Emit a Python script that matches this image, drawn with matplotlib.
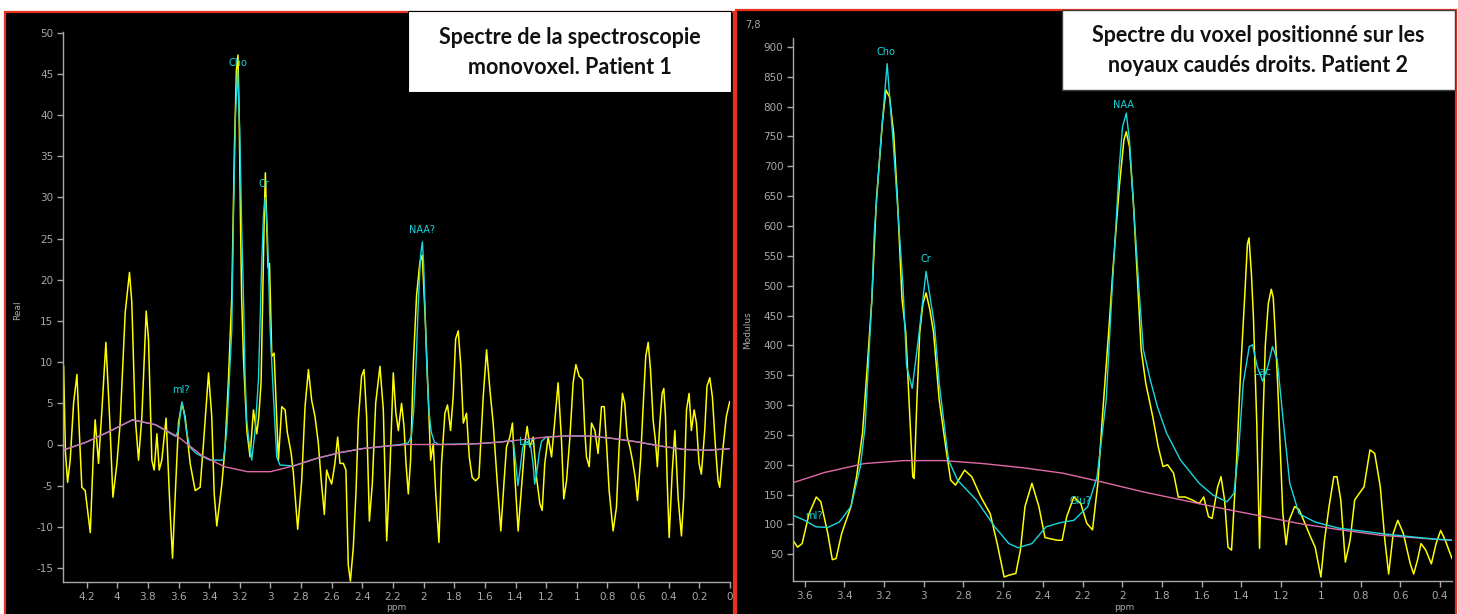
import matplotlib
matplotlib.use("Agg")
import matplotlib.pyplot as plt
from matplotlib.patches import Rectangle
from matplotlib.ticker import FixedLocator, FuncFormatter

# ---------------- Patient 1 (left, "Real") ----------------
p1_ppm = [4.350, 4.338, 4.324, 4.307, 4.285, 4.263, 4.246, 4.231, 4.209, 4.176,
          4.155, 4.144, 4.122, 4.100, 4.074, 4.050, 4.028, 4.002, 3.981, 3.948,
          3.920, 3.905, 3.883, 3.861, 3.839, 3.811, 3.796, 3.774, 3.759, 3.741,
          3.726, 3.709, 3.681, 3.654, 3.639, 3.622, 3.600, 3.578, 3.557, 3.524,
          3.491, 3.459, 3.437, 3.404, 3.383, 3.367, 3.350, 3.317, 3.296, 3.274,
          3.252, 3.235, 3.222, 3.212, 3.204, 3.196, 3.188, 3.176, 3.154, 3.133,
          3.111, 3.089, 3.076, 3.061, 3.048, 3.040, 3.033, 3.026, 3.016, 3.006,
          2.991, 2.976, 2.963, 2.948, 2.926, 2.904, 2.890, 2.865, 2.850, 2.822,
          2.796, 2.774, 2.752, 2.731, 2.709, 2.687, 2.670, 2.648, 2.633, 2.618,
          2.600, 2.579, 2.561, 2.546, 2.524, 2.507, 2.492, 2.478, 2.459, 2.441,
          2.426, 2.405, 2.389, 2.372, 2.354, 2.335, 2.313, 2.285, 2.263, 2.241,
          2.220, 2.198, 2.181, 2.165, 2.144, 2.128, 2.115, 2.100, 2.085, 2.067,
          2.046, 2.024, 2.009, 1.991, 1.970, 1.954, 1.937, 1.922, 1.900, 1.883,
          1.861, 1.844, 1.824, 1.807, 1.791, 1.774, 1.757, 1.741, 1.720, 1.702,
          1.683, 1.661, 1.639, 1.611, 1.589, 1.567, 1.546, 1.520, 1.496, 1.476,
          1.459, 1.437, 1.420, 1.404, 1.383, 1.361, 1.339, 1.324, 1.306, 1.285,
          1.263, 1.241, 1.226, 1.209, 1.187, 1.165, 1.143, 1.122, 1.100, 1.085,
          1.067, 1.045, 1.024, 1.006, 0.985, 0.963, 0.948, 0.937, 0.919, 0.904,
          0.882, 0.861, 0.839, 0.821, 0.806, 0.789, 0.763, 0.741, 0.724, 0.702,
          0.687, 0.671, 0.654, 0.637, 0.619, 0.604, 0.584, 0.567, 0.550, 0.534,
          0.519, 0.502, 0.487, 0.474, 0.458, 0.443, 0.432, 0.421, 0.410, 0.397,
          0.378, 0.360, 0.339, 0.317, 0.302, 0.284, 0.267, 0.252, 0.234, 0.219,
          0.202, 0.187, 0.165, 0.150, 0.132, 0.115, 0.095, 0.078, 0.067, 0.045,
          0.024, 0.002]
p1_real = [9.5, -1.0, -4.6, -1.9, 5.0, 8.5, 0.9, -5.2, -5.6, -10.7,
           -0.7, 3.0, -2.3, 4.2, 12.4, 3.4, -6.4, -2.3, 2.6, 16.0,
           20.9, 17.3, 3.4, -1.9, 3.4, 16.2, 12.8, -1.9, -3.1, 1.3,
           -3.1, -1.9, 3.2, -8.5, -13.8, -6.4, 2.6, 5.0, 3.4, -2.3,
           -5.6, -5.2, 0.1, 8.7, 3.4, -6.0, -9.9, -4.8, -0.3, 7.9,
           18.1, 36.0, 45.5, 47.3, 40.0, 28.0, 18.0, 10.5, 1.7, -1.5,
           4.2, 1.3, 3.4, 7.5, 20.0, 28.0, 33.0, 28.0, 21.5, 22.0,
           10.7, 11.1, 5.0, -1.9, 4.6, 4.2, 1.5, -1.0, -3.5, -10.3,
           -4.4, 4.6, 9.1, 5.4, 3.4, 0.1, -4.0, -8.5, -3.1, -4.0,
           -4.8, -2.3, 0.9, -2.3, -2.3, -3.1, -14.6, -16.6, -12.5, -5.6,
           3.0, 8.3, 9.1, 3.4, -9.3, -4.8, 5.0, 9.5, 4.2, -11.7,
           -3.1, 8.7, 3.8, 1.7, 5.0, 2.2, -2.3, -6.0, -1.9, 9.9,
           18.1, 22.2, 23.0, 16.0, 5.8, -1.9, 0.1, -5.6, -11.9, -2.3,
           3.8, 4.8, 1.7, 5.8, 12.8, 13.8, 9.5, 2.6, 3.8, -1.5,
           -4.0, -4.4, -4.0, 5.8, 11.5, 6.6, 2.6, -4.4, -10.5, -4.8,
           -0.3, 0.9, 2.6, -4.0, -10.5, -5.2, 0.1, 2.2, -0.3, 0.9,
           -4.0, -7.2, -8.0, -2.3, 0.9, -1.5, 3.0, 7.5, 0.5, -6.6,
           -4.4, 0.9, 7.5, 9.7, 8.3, 7.9, 1.7, -1.5, -2.7, 2.6,
           1.7, -1.1, 4.6, 4.6, 0.1, -5.6, -10.5, -7.6, -0.3, 6.2,
           5.0, 0.9, -0.3, -1.9, -4.0, -6.8, -1.9, 4.6, 10.7, 12.4,
           9.1, 3.0, 0.5, -2.7, 2.6, 6.2, 6.8, 3.4, -4.4, -11.3,
           -3.6, 1.7, -6.4, -11.1, -6.4, 4.2, 6.2, 1.7, 4.2, 2.6,
           -2.3, -3.6, 1.7, 7.1, 8.1, 5.8, -0.3, -4.4, -5.2, -0.3,
           3.4, 5.2]

p1_fit_ppm = [4.354, 4.20, 4.05, 3.90, 3.75, 3.62, 3.60, 3.59, 3.578, 3.566,
              3.549, 3.527, 3.483, 3.394, 3.307, 3.285, 3.263, 3.252, 3.241, 3.228,
              3.214, 3.200, 3.187, 3.176, 3.165, 3.155, 3.144, 3.122, 3.100, 3.078,
              3.057, 3.045, 3.033, 3.020, 3.002, 2.980, 2.959, 2.937, 2.85, 2.70,
              2.55, 2.40, 2.25, 2.15, 2.10, 2.08, 2.065, 2.05, 2.035, 2.02,
              2.008, 2.00, 1.99, 1.978, 1.965, 1.95, 1.93, 1.90, 1.65, 1.50,
              1.44, 1.415, 1.40, 1.385, 1.37, 1.355, 1.34, 1.32, 1.30, 1.285,
              1.275, 1.262, 1.245, 1.23, 1.20, 1.05, 0.90, 0.75, 0.60, 0.45,
              0.30, 0.15, 0.0]
p1_fit = [-0.7, 0.3, 1.6, 3.0, 2.4, 1.0, 1.7, 3.5, 5.2, 4.2,
          1.7, -0.3, -1.1, -1.9, -1.9, 1.7, 9.9, 14.0, 28.0, 40.0,
          45.5, 38.0, 26.0, 18.0, 8.0, 3.0, 1.0, -1.9, 1.7, 7.9,
          22.0, 28.0, 30.0, 26.0, 14.0, 5.8, -1.5, -2.5, -2.6, -1.7,
          -1.0, -0.5, -0.2, 0.0, 0.2, 1.0, 4.0, 9.5, 17.0, 23.0,
          24.6, 22.0, 16.0, 9.0, 4.0, 1.5, 0.3, 0.0, 0.1, 0.3,
          0.45, 0.3, -2.0, -5.0, -3.0, -0.5, 0.3, 0.2, -0.3, -2.5,
          -4.8, -3.5, -1.0, 0.4, 0.9, 1.05, 1.0, 0.7, 0.3, -0.2,
          -0.6, -0.7, -0.5]

p1_base_ppm = [4.354, 4.20, 4.05, 3.90, 3.75, 3.60, 3.45, 3.30, 3.15, 3.00,
               2.85, 2.70, 2.55, 2.40, 2.25, 2.10, 1.95, 1.80, 1.65, 1.50,
               1.35, 1.20, 1.05, 0.90, 0.75, 0.60, 0.45, 0.30, 0.15, 0.0]
p1_base = [-0.7, 0.3, 1.6, 3.0, 2.4, 0.9, -1.3, -2.7, -3.3, -3.3,
           -2.6, -1.7, -1.0, -0.5, -0.2, 0.0, 0.0, 0.0, 0.1, 0.3,
           0.6, 0.9, 1.05, 1.0, 0.7, 0.3, -0.2, -0.6, -0.7, -0.5]

p1_labels = ["Cho", "Cr", "NAA?", "mI?", "Lac"]
p1_label_ppm = [3.214, 3.04, 2.008, 3.585, 1.325]
p1_label_val = [46.3, 31.6, 26.0, 6.6, 0.3]

# ---------------- Patient 2 (right, "Modulus") ----------------
p2_ppm = [3.658, 3.635, 3.612, 3.577, 3.541, 3.518, 3.483, 3.460, 3.441, 3.413,
          3.366, 3.338, 3.308, 3.284, 3.261, 3.238, 3.207, 3.190, 3.172, 3.151,
          3.132, 3.109, 3.090, 3.074, 3.055, 3.048, 3.034, 3.020, 3.004, 2.988,
          2.969, 2.950, 2.922, 2.887, 2.864, 2.840, 2.794, 2.758, 2.712, 2.665,
          2.630, 2.595, 2.571, 2.536, 2.513, 2.490, 2.455, 2.420, 2.389, 2.361,
          2.326, 2.303, 2.280, 2.244, 2.209, 2.179, 2.150, 2.123, 2.100, 2.069,
          2.046, 2.015, 1.992, 1.980, 1.964, 1.945, 1.922, 1.905, 1.882, 1.847,
          1.819, 1.795, 1.772, 1.742, 1.718, 1.683, 1.648, 1.613, 1.590, 1.566,
          1.548, 1.520, 1.503, 1.485, 1.468, 1.450, 1.426, 1.403, 1.384, 1.370,
          1.362, 1.350, 1.340, 1.323, 1.309, 1.295, 1.280, 1.265, 1.250, 1.240,
          1.230, 1.217, 1.192, 1.175, 1.160, 1.132, 1.110, 1.087, 1.052, 1.029,
          1.000, 0.982, 0.959, 0.935, 0.919, 0.900, 0.877, 0.853, 0.830, 0.807,
          0.783, 0.753, 0.729, 0.701, 0.678, 0.659, 0.636, 0.613, 0.585, 0.550,
          0.533, 0.514, 0.496, 0.472, 0.444, 0.420, 0.397, 0.374, 0.340]
p2_mod = [73.5, 62, 68, 118, 146, 138, 85, 41, 43, 85,
          130, 180, 253, 365, 477, 644, 777, 828, 816, 755,
          644, 477, 421, 309, 180, 177, 309, 421, 470, 488,
          460, 421, 309, 225, 174, 166, 191, 180, 146, 118,
          68, 12, 15, 18, 57, 130, 169, 130, 78, 76,
          73.5, 73.5, 113, 146, 135, 102, 91, 169, 281, 421,
          532, 666, 744, 758, 733, 644, 499, 393, 337, 281,
          230, 197, 200, 186, 146, 146, 141, 135, 146, 113,
          110, 163, 180, 141, 62, 57, 197, 365, 480, 570,
          580, 520, 449, 270, 60, 240, 400, 470, 494, 480,
          420, 330, 120, 66, 107, 130, 125, 107, 79, 62,
          12, 73.5, 130, 180, 180, 141, 37, 73.5, 141, 152,
          163, 225, 219, 163, 73.5, 17, 85, 107, 85, 34,
          17, 40, 68, 57, 34, 68, 90, 73.5, 43]

p2_fit_ppm = [3.658, 3.600, 3.542, 3.483, 3.425, 3.366, 3.319, 3.295, 3.261, 3.249,
              3.214, 3.184, 3.156, 3.128, 3.104, 3.086, 3.058, 3.027, 2.988, 2.945,
              2.922, 2.875, 2.829, 2.735, 2.642, 2.571, 2.525, 2.455, 2.384, 2.314,
              2.244, 2.174, 2.127, 2.081, 2.050, 2.015, 1.999, 1.980, 1.964, 1.940,
              1.917, 1.894, 1.859, 1.823, 1.777, 1.707, 1.613, 1.543, 1.473, 1.438,
              1.414, 1.391, 1.361, 1.344, 1.321, 1.293, 1.267, 1.244, 1.220, 1.192,
              1.157, 1.110, 1.029, 0.912, 0.678, 0.444, 0.339]
p2_fit = [115.5, 107, 96, 95, 104, 130, 197, 264, 477, 588,
          750, 872, 750, 616, 499, 365, 328, 410, 524, 432,
          337, 208, 174, 141, 96, 68, 61, 68, 96, 103,
          107, 130, 180, 309, 500, 700, 766, 789, 744, 616,
          499, 393, 342, 297, 253, 208, 169, 149, 138, 152,
          225, 337, 398, 401, 365, 340, 365, 398, 376, 281,
          169, 118, 104, 94, 84, 76, 73.5]

p2_base_ppm = [3.658, 3.50, 3.30, 3.10, 2.90, 2.70, 2.50, 2.30, 2.10, 1.90,
               1.70, 1.50, 1.30, 1.10, 0.90, 0.70, 0.50, 0.34]
p2_base = [170, 187, 202, 207, 207, 202, 195, 186, 171, 155,
           141, 127, 114, 101, 91, 82, 77, 73.5]

p2_labels = ["Cho", "Cr", "NAA", "mI?", "Glu?", "Lac"]
p2_label_ppm = [3.19, 2.99, 1.994, 3.553, 2.21, 1.293]
p2_label_val = [892, 544, 802, 115, 140, 355]

# ---------------- figure ----------------
W, H = 1458, 614
fig = plt.figure(figsize=(W / 100, H / 100), dpi=100, facecolor="white")


def fx(px):
    return px / W


def fy(py):
    return 1 - py / H


YELLOW = "#ffff00"
CYAN = "#19d8e0"
PINK = "#e06aa8"
GREY = "#a8a8a8"
RED = "#e8321e"
small_font = ["Liberation Sans Narrow", "DejaVu Sans"]

# black panels with red frame
for x0, y0, x1 in [(5, 12, 734), (736, 10, 1456)]:
    fig.patches.append(Rectangle((fx(x0), -0.01), fx(x1 - x0), 1.01 - y0 / H,
                                 transform=fig.transFigure, facecolor="black",
                                 edgecolor=RED, linewidth=1.6, zorder=-2))


def style_axes(ax, xlim, ylim, xticks, yticks):
    ax.set_facecolor("none")
    ax.set_xlim(*xlim)
    ax.set_ylim(*ylim)
    for side in ("top", "right"):
        ax.spines[side].set_visible(False)
    for side in ("left", "bottom"):
        ax.spines[side].set_color(GREY)
        ax.spines[side].set_linewidth(1.0)
    ax.xaxis.set_major_locator(FixedLocator(xticks))
    ax.yaxis.set_major_locator(FixedLocator(yticks))
    ax.xaxis.set_major_formatter(FuncFormatter(lambda v, p: f"{round(v, 1):g}"))
    ax.yaxis.set_major_formatter(FuncFormatter(lambda v, p: f"{v:g}"))
    ax.tick_params(colors=GREY, labelsize=7.5, length=4, width=1, pad=3)
    for lab in ax.get_xticklabels() + ax.get_yticklabels():
        lab.set_family(small_font)


# left panel
ax1 = fig.add_axes([fx(63), fy(582), fx(730 - 63), (582 - 32) / H])
style_axes(ax1, (4.354, 0.0), (-16.7, 50.1),
           [4.2 - 0.2 * i for i in range(22)], list(range(-15, 51, 5)))
ax1.plot(p1_ppm, p1_real, color=YELLOW, lw=1.1, zorder=2)
ax1.plot(p1_fit_ppm, p1_fit, color=CYAN, lw=1.0, zorder=3)
ax1.plot(p1_base_ppm, p1_base, color=PINK, lw=1.0, zorder=4)
for t, x, y in zip(p1_labels, p1_label_ppm, p1_label_val):
    ax1.text(x, y, t, color=CYAN, fontsize=7, ha="center", va="center",
             family=small_font, zorder=5)

# right panel
ax2 = fig.add_axes([fx(793), fy(581), fx(1452 - 793), (581 - 38) / H])
style_axes(ax2, (3.658, 0.34), (5.3, 915),
           [3.6 - 0.2 * i for i in range(17)], list(range(50, 901, 50)))
ax2.plot(p2_ppm, p2_mod, color=YELLOW, lw=1.1, zorder=2)
ax2.plot(p2_base_ppm, p2_base, color=PINK, lw=1.0, zorder=3)
ax2.plot(p2_fit_ppm, p2_fit, color=CYAN, lw=1.0, zorder=4)
for t, x, y in zip(p2_labels, p2_label_ppm, p2_label_val):
    ax2.text(x, y, t, color=CYAN, fontsize=7, ha="center", va="center",
             family=small_font, zorder=5)

# axis names
fig.text(fx(18), fy(310), "Real", color=GREY, fontsize=6.5, rotation=90,
         ha="center", va="center", family=small_font)
fig.text(fx(396), fy(608), "ppm", color=GREY, fontsize=6.5,
         ha="center", va="center", family=small_font)
fig.text(fx(748), fy(330), "Modulus", color=GREY, fontsize=6.5, rotation=90,
         ha="center", va="center", family=small_font)
fig.text(fx(1124), fy(608), "ppm", color=GREY, fontsize=6.5,
         ha="center", va="center", family=small_font)
fig.text(fx(753), fy(25), "7,8", color=GREY, fontsize=7,
         ha="center", va="center", family=small_font)

# title boxes
fig.patches.append(Rectangle((fx(408), fy(92)), fx(731 - 408), (92 - 11) / H,
                             transform=fig.transFigure, facecolor="white",
                             edgecolor="black", linewidth=0.8, zorder=6))
fig.patches.append(Rectangle((fx(1062), fy(90)), fx(1455 - 1062), (90 - 10) / H,
                             transform=fig.transFigure, facecolor="white",
                             edgecolor="#404040", linewidth=1.0, zorder=6))
title_font = ["Lato", "DejaVu Sans"]
title_kw = dict(fontsize=15.5, fontweight="bold", ha="center", va="center",
                family=title_font, color="#111111", zorder=7)
fig.text(fx(570), fy(38), "Spectre de la spectroscopie", **title_kw)
fig.text(fx(570), fy(67), "monovoxel. Patient 1", **title_kw)
fig.text(fx(1258), fy(36), "Spectre du voxel positionné sur les", **title_kw)
fig.text(fx(1258), fy(65), "noyaux caudés droits. Patient 2", **title_kw)

fig.savefig("out.png", dpi=100, facecolor="white")
